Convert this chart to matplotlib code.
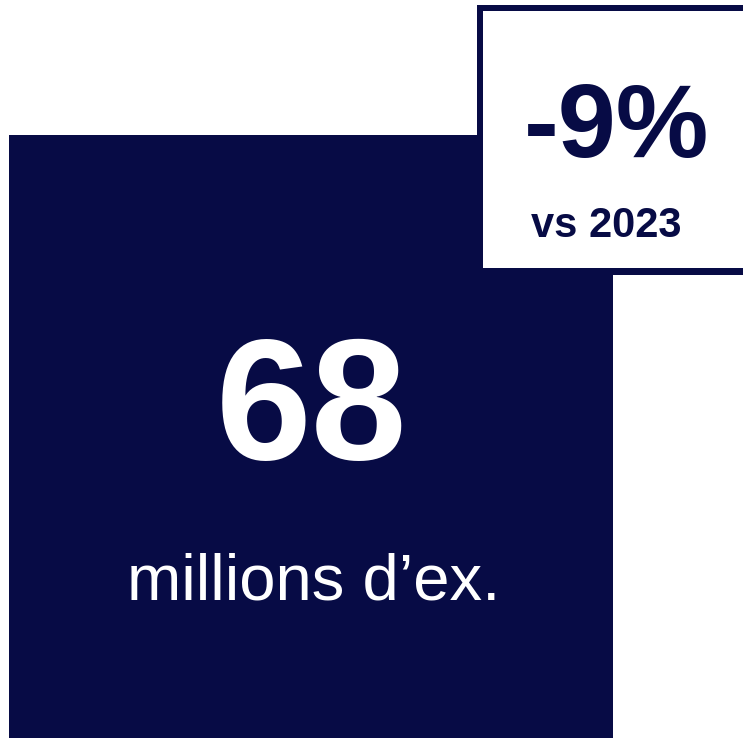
import matplotlib
matplotlib.use("Agg")
import matplotlib.pyplot as plt
from matplotlib.patches import Rectangle

plt.rcParams['font.family'] = ['Liberation Sans', 'DejaVu Sans']

# Key figures
main_value = "68"
main_unit = "millions d\u2019ex."
change_value = "-9%"
change_label = "vs 2023"

navy = "#070B45"

W, H = 743, 738
fig = plt.figure(figsize=(W / 100, H / 100), dpi=100)
ax = fig.add_axes([0, 0, 1, 1])
ax.set_xlim(0, W)
ax.set_ylim(H, 0)
ax.axis('off')

# Big dark block
ax.add_patch(Rectangle((9, 135), 604, 610, facecolor=navy, edgecolor='none'))

# Small white box with navy border (runs off the right edge)
ax.add_patch(Rectangle((477, 5), 300, 270, facecolor=navy, edgecolor='none'))
ax.add_patch(Rectangle((483, 11), 300, 257, facecolor='white', edgecolor='none'))

ax.text(312, 459, main_value, color='white', fontsize=124, fontweight='bold',
        ha='center', va='baseline')
ax.text(314, 599, main_unit, color='white', fontsize=47,
        ha='center', va='baseline')

ax.text(617, 157, change_value, color=navy, fontsize=75, fontweight='bold',
        ha='center', va='baseline')
ax.text(606, 237, change_label, color=navy, fontsize=30, fontweight='bold',
        ha='center', va='baseline')

fig.savefig("out.png", dpi=100)
